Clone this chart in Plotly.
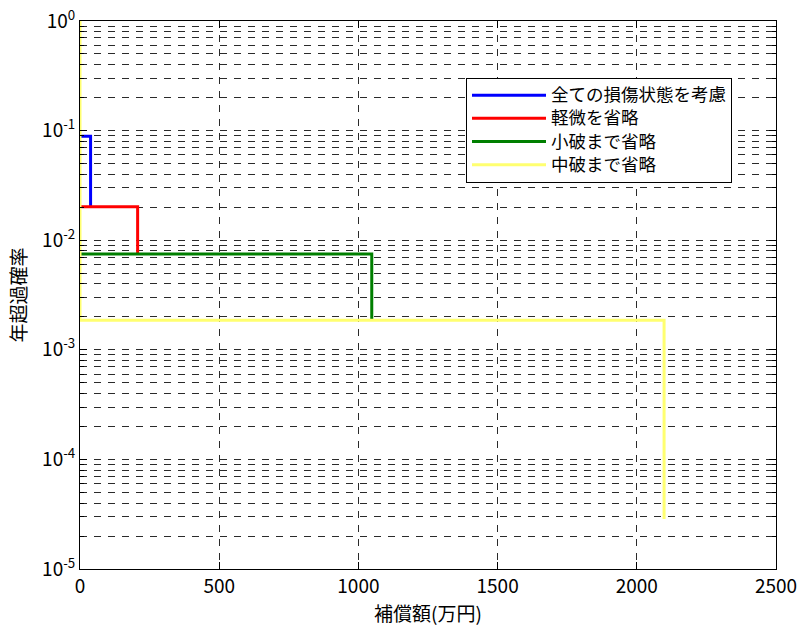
import plotly.graph_objects as go

# Exceedance curves (compensation amount in 10k yen vs. annual exceedance probability)
series_names = ["全ての損傷状態を考慮", "軽微を省略", "小破まで省略", "中破まで省略"]
series_colors = ["#0000FF", "#FF0000", "#007F00", "#FFFF70"]

x_all = [0, 38, 38]
y_all = [0.0887, 0.0887, 0.0202]

x_skip_minor = [0, 207, 207]
y_skip_minor = [0.0202, 0.0202, 0.0075]

x_skip_small = [0, 1048, 1048]
y_skip_small = [0.0075, 0.0075, 0.00186]

x_skip_moderate = [0, 0, 2098, 2098]
y_skip_moderate = [1.0, 0.00186, 0.00186, 2.86e-5]

x_ticks = [0, 500, 1000, 1500, 2000, 2500]
y_ticks = [1e-5, 1e-4, 1e-3, 1e-2, 1e-1, 1e0]
y_tick_text = ["10<sup>-5</sup>", "10<sup>-4</sup>", "10<sup>-3</sup>",
               "10<sup>-2</sup>", "10<sup>-1</sup>", "10<sup>0</sup>"]

x_title = "補償額(万円)"
y_title = "年超過確率"

xs = [x_all, x_skip_minor, x_skip_small, x_skip_moderate]
ys = [y_all, y_skip_minor, y_skip_small, y_skip_moderate]
widths = [3, 3, 3, 3]

fig = go.Figure()
for name, color, xv, yv, w in zip(series_names, series_colors, xs, ys, widths):
    fig.add_trace(go.Scatter(
        x=xv, y=yv, mode="lines",
        name='<span style="font-size:17.5px">' + name + "</span>",
        line=dict(color=color, width=w)))

num_font = "Liberation Sans Narrow, Noto Sans CJK JP, sans-serif"
jp_font = "Noto Sans CJK JP, sans-serif"
grid_col = "#2a2a2a"

fig.update_layout(
    width=798, height=626,
    margin=dict(l=80, r=22, t=21, b=57, autoexpand=False),
    paper_bgcolor="white", plot_bgcolor="white",
    font=dict(family=num_font, size=19, color="black"),
    showlegend=True,
    legend=dict(
        x=0.5546, y=0.8967, xanchor="left", yanchor="top",
        bgcolor="white", bordercolor="black", borderwidth=1,
        font=dict(family=jp_font, size=15.5, color="black"),
        itemwidth=74, tracegroupgap=0,
    ),
)

fig.update_xaxes(
    range=[0, 2500], tickvals=x_ticks, ticktext=[str(v) for v in x_ticks],
    showline=True, linecolor="black", linewidth=1, mirror="ticks",
    ticks="inside", ticklen=7, tickcolor="black", tickwidth=1,
    showgrid=True, gridcolor=grid_col, gridwidth=1, griddash="7px,7px",
    zeroline=False, automargin=False,
    tickfont=dict(family=num_font, size=19),
    title=dict(text=x_title, font=dict(family=jp_font, size=19), standoff=15),
)

fig.update_yaxes(
    type="log", range=[-5, 0], tickvals=y_ticks, ticktext=y_tick_text,
    showline=True, linecolor="black", linewidth=1, mirror="ticks",
    ticks="inside", ticklen=7, tickcolor="black", tickwidth=1,
    showgrid=True, gridcolor=grid_col, gridwidth=1, griddash="7px,7px",
    zeroline=False, automargin=False,
    minor=dict(ticks="inside", ticklen=4, tickcolor="black", dtick="D1",
               showgrid=True, gridcolor=grid_col, gridwidth=1, griddash="7px,7px"),
    tickfont=dict(family=num_font, size=19),
    title=dict(text=y_title, font=dict(family=jp_font, size=19), standoff=10),
)

fig.write_html("out.html")
